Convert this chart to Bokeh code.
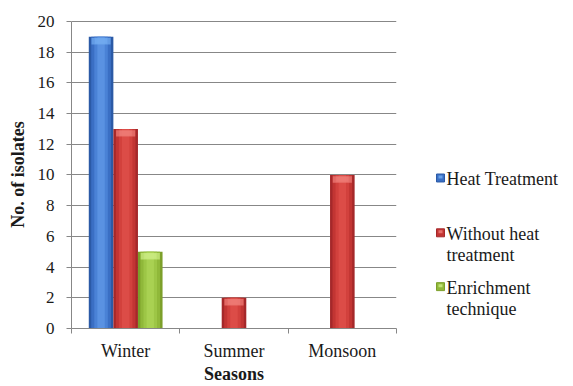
from bokeh.plotting import figure
from bokeh.layouts import row
from bokeh.models import Range1d, FixedTicker, Label
from bokeh.embed import file_html
from bokeh.resources import INLINE

# Isolate counts per season for each method
seasons = ["Winter", "Summer", "Monsoon"]
heat_treatment = [19, 0, 0]
without_heat = [13, 2, 10]
enrichment = [5, 0, 0]
y_ticks = [0, 2, 4, 6, 8, 10, 12, 14, 16, 18, 20]

series = [
    (["Heat Treatment"], heat_treatment, -0.227,
     ["#2b5aa6", "#3a6fc4", "#4a82d6", "#5a92e2"], "#74aef2"),
    (["Without heat", "treatment"], without_heat, 0.0,
     ["#a5282a", "#c23533", "#d2413d", "#dc4c47"], "#f0807a"),
    (["Enrichment", "technique"], enrichment, 0.227,
     ["#7c9f2a", "#90b83a", "#9dc646", "#a9d152"], "#cdee86"),
]

FONT = "Liberation Serif"
GRID = "#878787"
INK = "#1a1a1a"

n = len(seasons)

p = figure(width=397, height=386, output_backend="svg", toolbar_location=None,
           x_range=Range1d(0, n), y_range=Range1d(0, 20.06),
           min_border_left=71, min_border_right=1,
           min_border_top=20, min_border_bottom=57)
p.outline_line_color = None
p.background_fill_color = "white"
p.border_fill_color = "white"

centers = [i + 0.5 for i in range(n)]
bar_w = 0.227

for name, vals, off, shades, bevel in series:
    xs = [c + off for c in centers]
    # shaded body: darker edges, lighter middle
    for frac, col in zip([1.0, 0.8, 0.55, 0.3], shades):
        p.vbar(x=xs, width=bar_w * frac, top=vals, bottom=0,
               fill_color=col, line_color=None)
    # light bevel along the top edge
    p.vbar(x=xs, width=bar_w * 0.78, top=[v - 0.08 for v in vals],
           bottom=[v - 0.5 for v in vals], fill_color=bevel, line_color=None,
           fill_alpha=0.7)
    p.vbar(x=xs, width=bar_w * 0.5, top=[v - 0.1 for v in vals],
           bottom=[v - 0.45 for v in vals], fill_color=bevel, line_color=None,
           fill_alpha=0.5)

# axes
p.yaxis.ticker = FixedTicker(ticks=y_ticks)
p.yaxis.axis_line_color = GRID
p.yaxis.major_tick_line_color = GRID
p.yaxis.major_tick_out = 5
p.yaxis.major_tick_in = 0
p.yaxis.minor_tick_line_color = None
p.yaxis.bounds = (0, 20)
p.yaxis.major_label_text_font = FONT
p.yaxis.major_label_text_font_size = "17px"
p.yaxis.major_label_text_color = INK
p.yaxis.major_label_standoff = 12
p.yaxis.axis_label = "No. of isolates"
p.yaxis.axis_label_text_font = FONT
p.yaxis.axis_label_text_font_style = "bold"
p.yaxis.axis_label_text_font_size = "18px"
p.yaxis.axis_label_text_color = INK
p.yaxis.axis_label_standoff = 7

p.xaxis.ticker = FixedTicker(ticks=centers, minor_ticks=list(range(n + 1)))
p.xaxis.major_label_overrides = {c: s for c, s in zip(centers, seasons)}
p.xaxis.axis_line_color = GRID
p.xaxis.major_tick_line_color = None
p.xaxis.major_tick_out = 0
p.xaxis.major_tick_in = 0
p.xaxis.minor_tick_line_color = GRID
p.xaxis.minor_tick_out = 5
p.xaxis.minor_tick_in = 0
p.xaxis.major_label_text_font = FONT
p.xaxis.major_label_text_font_size = "18px"
p.xaxis.major_label_text_color = INK
p.xaxis.major_label_standoff = 7
p.xaxis.axis_label = "Seasons"
p.xaxis.axis_label_text_font = FONT
p.xaxis.axis_label_text_font_style = "bold"
p.xaxis.axis_label_text_font_size = "18px"
p.xaxis.axis_label_text_color = INK
p.xaxis.axis_label_standoff = 0

p.xgrid.grid_line_color = None
p.ygrid.grid_line_color = GRID
p.ygrid.grid_line_width = 1

# legend panel to the right; its frame lines up with the chart frame,
# so the y range is given in page pixels (downwards) from 20 to 329
leg = figure(width=176, height=386, output_backend="svg", toolbar_location=None,
             x_range=Range1d(397, 573), y_range=Range1d(329, 20),
             min_border_left=0, min_border_right=0,
             min_border_top=20, min_border_bottom=57,
             x_axis_location=None, y_axis_location=None)
leg.outline_line_color = None
leg.grid.grid_line_color = None
leg.background_fill_color = "white"
leg.border_fill_color = "white"

legend_rows = [178, 233, 287]
line_gap = 21
for (lines, vals, off, shades, bevel), ry in zip(series, legend_rows):
    leg.rect(x=[440], y=[ry], width=8, height=8,
             fill_color=shades[1], line_color=shades[0], line_width=1)
    leg.rect(x=[440], y=[ry - 1], width=4, height=3,
             fill_color=bevel, line_color=None, fill_alpha=0.8)
    for k, line in enumerate(lines):
        leg.add_layout(Label(x=446, y=ry + 1 + k * line_gap, text=line,
                             text_font=FONT, text_font_size="18px",
                             text_color=INK, text_baseline="middle",
                             text_align="left"))

layout = row(p, leg, spacing=0)

with open("out.html", "w") as f:
    f.write(file_html(layout, INLINE))
